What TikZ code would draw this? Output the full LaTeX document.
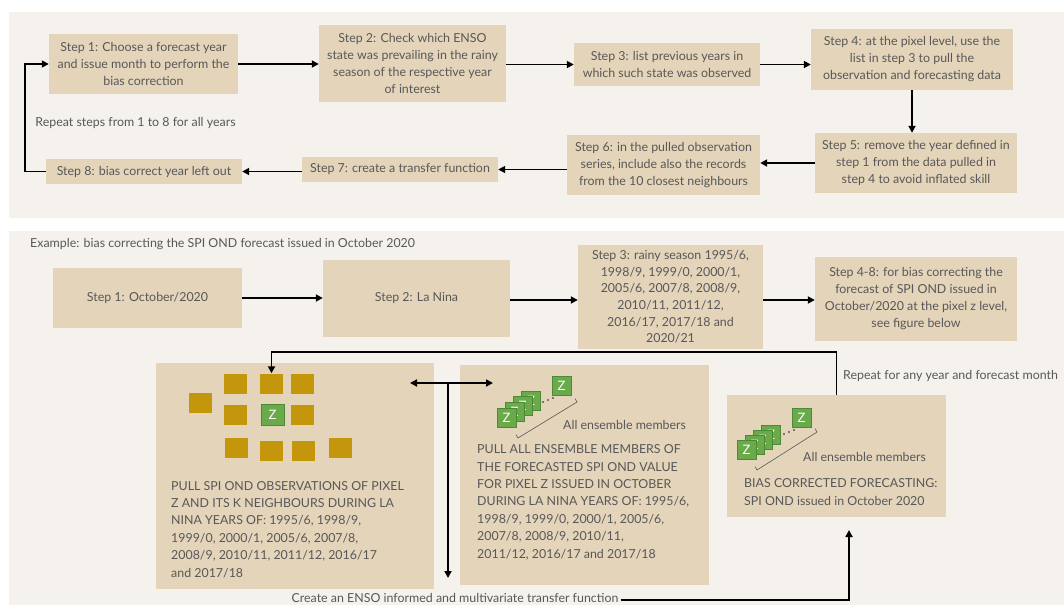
\documentclass[tikz,border=0pt]{standalone}
\usepackage{fontspec}
\setmainfont{Lato}
\usetikzlibrary{arrows.meta}
\definecolor{bgc}{RGB}{245,242,238}
\definecolor{boxc}{RGB}{228,212,186}
\definecolor{txt}{RGB}{88,88,88}
\definecolor{gold}{RGB}{196,150,12}
\definecolor{zgreen}{RGB}{106,170,74}
\definecolor{zdark}{RGB}{76,138,53}
\begin{document}
\begin{tikzpicture}[x=1pt,y=-1pt,
  box/.style={fill=boxc, text=txt, align=center, inner sep=0pt, font=\fontsize{12.4}{17}\selectfont},
  arr/.style={line width=1.7pt, -{Triangle[length=7pt,width=7pt]}},
  darr/.style={line width=1.7pt, {Triangle[length=7pt,width=7pt]}-{Triangle[length=7pt,width=7pt]}},
  lbl/.style={text=txt, inner sep=0pt, font=\fontsize{12.4}{17}\selectfont},
  caps/.style={text=txt, inner sep=0pt, align=left, font=\fontsize{12.4}{17.4}\selectfont},
  gsq/.style={fill=gold, minimum width=23pt, minimum height=20pt, inner sep=0pt},
  zsq/.style={fill=zgreen, draw=zdark, line width=0.6pt, minimum width=#1, minimum height=#1, inner sep=0pt, text=white, font=\fontsize{13}{13}\selectfont},
  zsq/.default=19pt,
  brk/.style={draw=txt, line width=0.6pt},
]
\useasboundingbox (0,0) rectangle (1064,605);
\fill[white] (0,0) rectangle (1064,605);
\fill[bgc] (9,12) rectangle (1064,218);
\fill[bgc] (9,231) rectangle (1064,605);

% ---------- top panel ----------
\node[box, minimum width=189pt, minimum height=60pt] (s1) at (143.5,64) {Step 1: Choose a forecast year\\and issue month to perform the\\bias correction};
\node[box, minimum width=187pt, minimum height=77pt] (s2) at (412.5,63.5) {Step 2: Check which ENSO\\state was prevailing in the rainy\\season of the respective year\\of interest};
\node[box, minimum width=186pt, minimum height=43pt] (s3) at (667,64.5) {Step 3: list previous years in\\which such state was observed};
\node[box, minimum width=202pt, minimum height=61pt] (s4) at (912,59.5) {Step 4: at the pixel level, use the\\list in step 3 to pull the\\observation and forecasting data};
\node[box, minimum width=202pt, minimum height=60pt] (s5) at (916,163) {Step 5: remove the year defined in\\step 1 from the data pulled in\\step 4 to avoid inflated skill};
\node[box, minimum width=193pt, minimum height=60pt] (s6) at (663.5,165) {Step 6: in the pulled observation\\series, include also the records\\from the 10 closest neighbours};
\node[box, minimum width=196pt, minimum height=25pt] (s7) at (400,169.5) {Step 7: create a transfer function};
\node[box, minimum width=196pt, minimum height=25pt] (s8) at (144,171.5) {Step 8: bias correct year left out};
\node[lbl] (rep) at (135.5,123) {Repeat steps from 1 to 8 for all years};
\coordinate (loopx) at (25,0);

\draw[arr] (s1.east) -- (s1.east -| s2.west);
\draw[arr] (s2.east |- s3.west) -- (s3.west);
\draw[arr] (s3.east) -- (s3.east -| s4.west);
\draw[arr] (s4.south) -- (s4.south |- s5.north);
\draw[arr] (s5.west) -- (s5.west -| s6.east);
\draw[arr] (s6.west |- s7.east) -- (s7.east);
\draw[arr] (s7.west |- s8.east) -- (s8.east);
\draw[arr] (s8.west) -- (s8.west -| loopx) |- (s1.west);

% ---------- bottom panel ----------
\node[lbl, anchor=west] (ex) at (30,244) {Example: bias correcting the SPI OND forecast issued in October 2020};
\node[box, minimum width=189pt, minimum height=60pt] (b1) at (147.5,298) {Step 1: October/2020};
\node[box, minimum width=187pt, minimum height=77pt] (b2) at (416.5,298.5) {Step 2: La Nina};
\node[box, minimum width=185pt, minimum height=104pt, font=\fontsize{12.4}{16.6}\selectfont] (b3) at (670.5,297) {Step 3: rainy season 1995/6,\\1998/9, 1999/0, 2000/1,\\2005/6, 2007/8, 2008/9,\\2010/11, 2011/12,\\2016/17, 2017/18 and\\2020/21};
\node[box, minimum width=202pt, minimum height=84pt] (b4) at (916,299) {Step 4-8: for bias correcting the\\forecast of SPI OND issued in\\October/2020 at the pixel z level,\\see figure below};

\draw[arr] (b1.east) -- (b1.east -| b2.west);
\draw[arr] (b2.east |- 0,300) -- (b3.west |- 0,300);
\draw[arr] (b3.east |- 0,300) -- (b4.west |- 0,300);

\node[box, minimum width=278pt, minimum height=226pt] (p1) at (295,476) {};
\node[box, minimum width=249pt, minimum height=220pt] (p2) at (584.5,475) {};
\node[box, minimum width=219pt, minimum height=122pt] (p3) at (836.5,456) {};

% neighbour grid
\node[gsq] (g1) at (235.5,383.5) {};
\node[gsq] (sq2) at (271.5,383.5) {};
\node[gsq] (g3) at (302,383.5) {};
\node[gsq] (g4) at (200.5,403) {};
\node[gsq] (g5) at (235.5,415) {};
\node[zsq=21pt, minimum width=23pt] (zc) at (272.5,414.5) {Z};
\node[gsq] (g6) at (302,415) {};
\node[gsq] (g7) at (236,448) {};
\node[gsq] (g8) at (271.5,451) {};
\node[gsq] (g9) at (303.5,451) {};
\node[gsq] (g10) at (340,448) {};

\node[caps, anchor=north west] (p1t) at (171,481) {PULL SPI OND OBSERVATIONS OF PIXEL\\Z AND ITS K NEIGHBOURS DURING LA\\NINA YEARS OF: 1995/6, 1998/9,\\1999/0, 2000/1, 2005/6, 2007/8,\\2008/9, 2010/11, 2011/12, 2016/17\\and 2017/18};

% ensemble stack in p2
\node[zsq] (e4) at (531,401) {Z};
\node[zsq] (e3) at (522.5,406) {Z};
\node[zsq] (e2) at (514.5,411.5) {Z};
\node[zsq] (e1) at (506.5,417.5) {Z};
\node[zsq] (en) at (561.5,386) {Z};
\fill[txt] (543,402) circle (1.1pt) (548,400) circle (1.1pt) (553,398) circle (1.1pt);
\draw[brk] (516,434.6) -- (518,438) -- (577,402) -- (575,398.6);
\node[lbl, anchor=west] (p2a) at (563,425) {All ensemble members};
\node[caps, anchor=north west] (p2t) at (477,444.5) {PULL ALL ENSEMBLE MEMBERS OF\\THE FORECASTED SPI OND VALUE\\FOR PIXEL Z ISSUED IN OCTOBER\\DURING LA NINA YEARS OF: 1995/6,\\1998/9, 1999/0, 2000/1, 2005/6,\\2007/8, 2008/9, 2010/11,\\2011/12, 2016/17 and 2017/18};

% ensemble stack in p3
\node[zsq] (f4) at (771,434.5) {Z};
\node[zsq] (f3) at (762.5,439.5) {Z};
\node[zsq] (f2) at (754.5,444.5) {Z};
\node[zsq] (f1) at (746.5,449.5) {Z};
\node[zsq] (fn) at (801.5,417.5) {Z};
\fill[txt] (784,434) circle (1.1pt) (789,432) circle (1.1pt) (794,430) circle (1.1pt);
\draw[brk] (755,466.6) -- (757,470) -- (817,432) -- (815,428.6);
\node[lbl, anchor=west] (p3a) at (803,457) {All ensemble members};
\node[caps, anchor=north west] (p3t) at (744,478.5) {BIAS CORRECTED FORECASTING:\\SPI OND issued in October 2020};

% connectors
\coordinate (rl) at (0,352);
\draw[arr] (p3.north) -- (p3.north |- rl) -| (sq2.north);
\node[lbl, anchor=west] (rpl) at (843,376) {Repeat for any year and forecast month};

\coordinate (dl) at (410,383);
\coordinate (dr) at (493,383);
\coordinate (jn) at (448,383);
\coordinate (jd) at (448,578);
\draw[darr] (dl) -- (dr);
\draw[arr] (jn) -- (jd);

\node[lbl] (tf) at (455,598) {Create an ENSO informed and multivariate transfer function};
\coordinate (p3in) at (849,530);
\draw[arr] ([xshift=2pt]tf.east |- 0,600) -- (p3in |- 0,600) -- (p3in);
\end{tikzpicture}
\end{document}
